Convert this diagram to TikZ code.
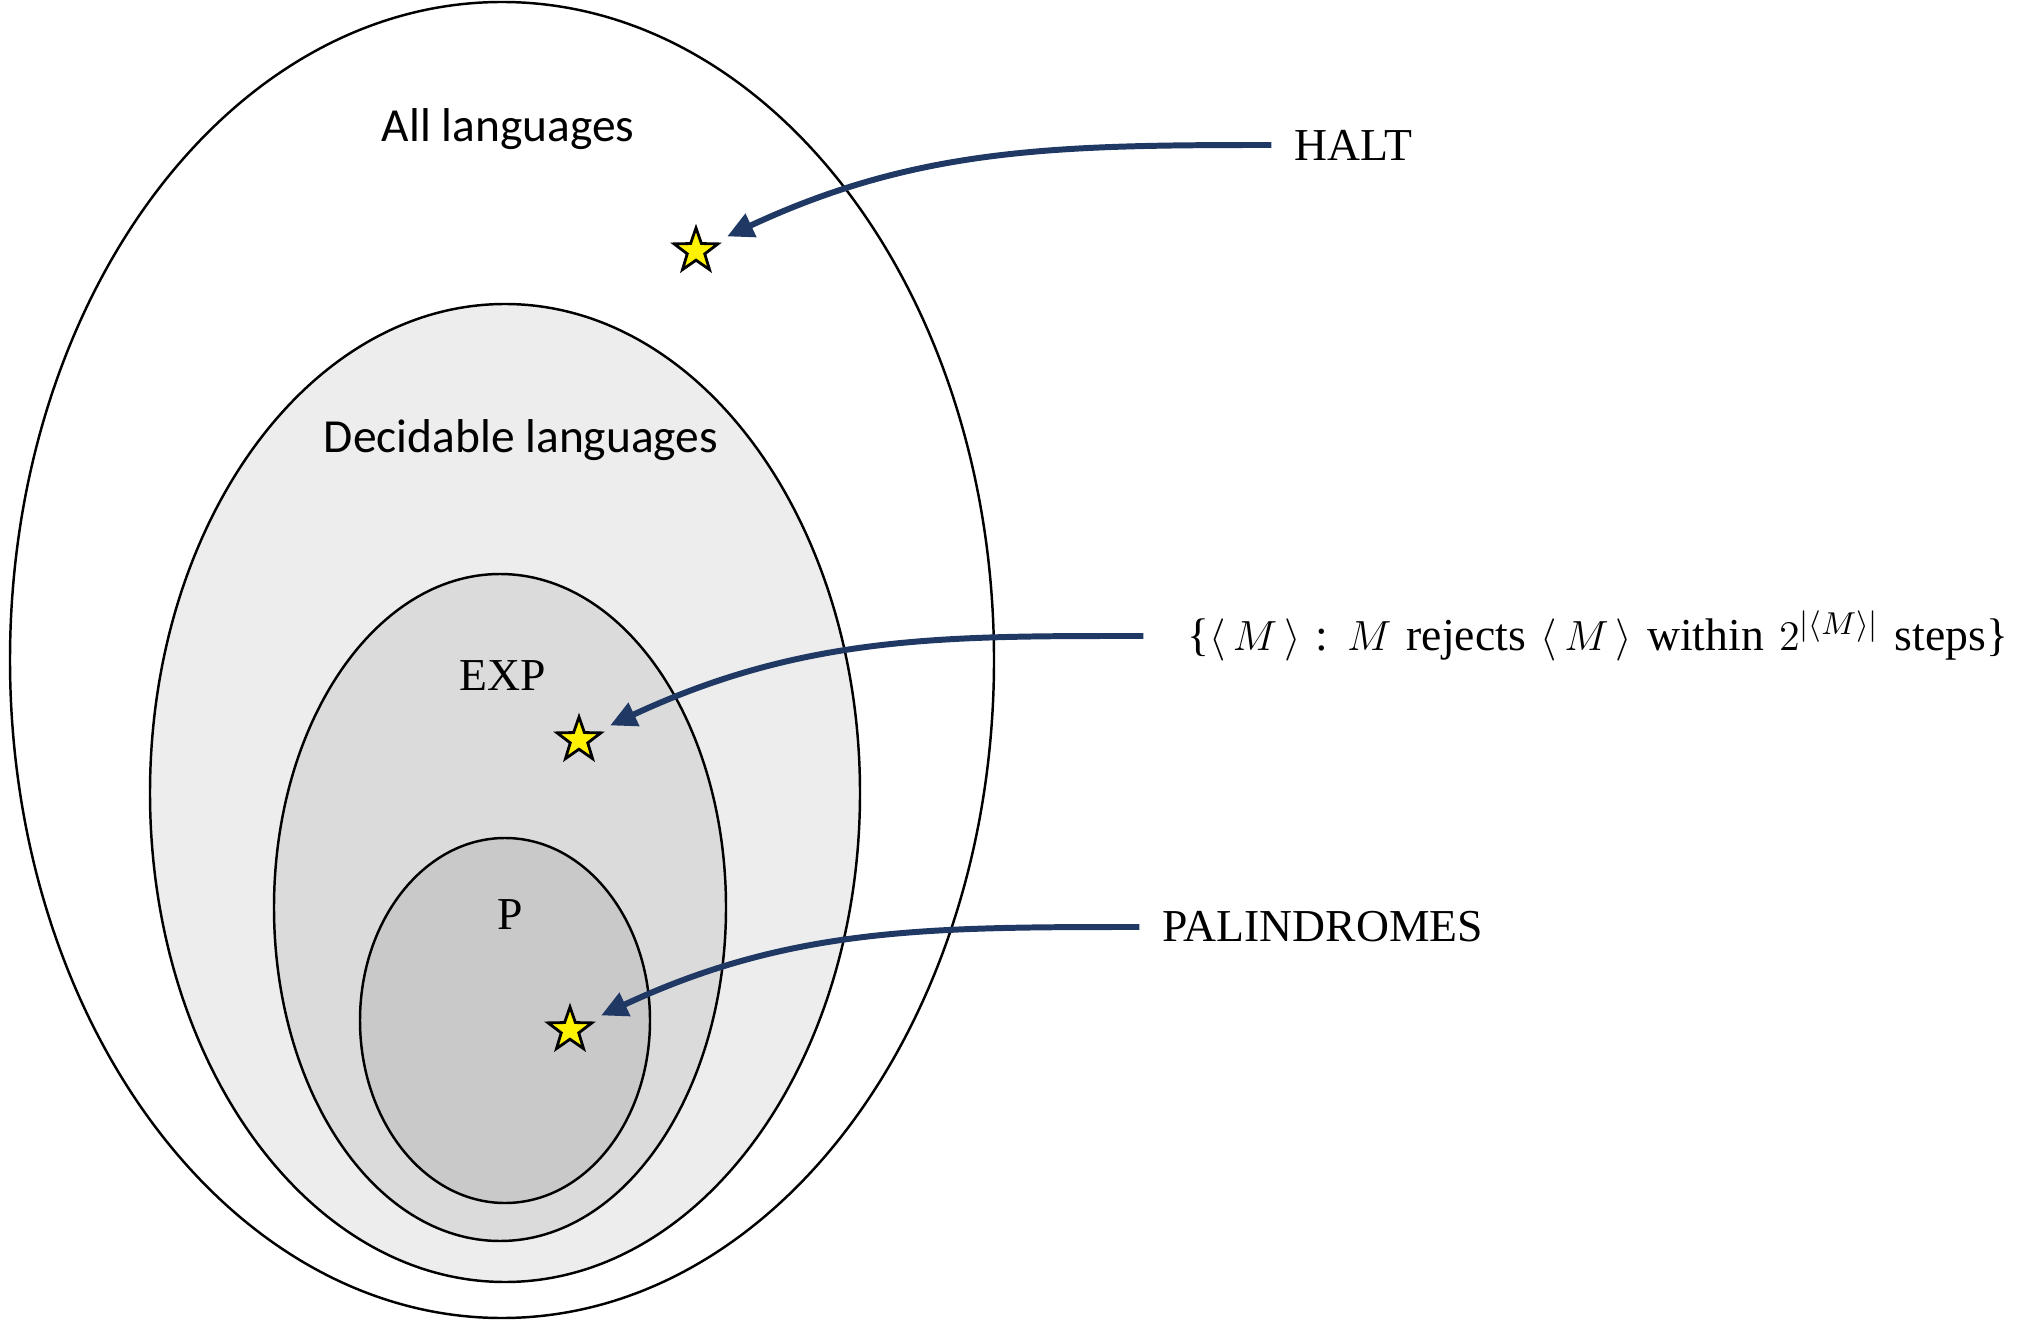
\documentclass[tikz,border=0pt]{standalone}
\usepackage{fontspec}
\setmainfont{Liberation Serif}
\newfontfamily\calibrifont{Carlito}
\usepackage{tikz}
\usetikzlibrary{arrows.meta}
\usetikzlibrary{calc}
\usetikzlibrary{shapes}

\definecolor{arrowblue}{RGB}{31,56,100}
\definecolor{decfill}{RGB}{237,237,237}
\definecolor{expfill}{RGB}{219,219,219}
\definecolor{pfill}{RGB}{201,201,201}

\begin{document}
\begin{tikzpicture}[
        set_style/.style={draw=black, line width=0.7pt},
        star_style/.style={star, star points=5, star point ratio=2.5, minimum size=0.46cm, inner sep=0pt, draw=black, line width=0.8pt, fill=yellow},
        sans_style/.style={font=\calibrifont\fontsize{13.5}{16}\selectfont},
        serif_style/.style={font=\fontsize{13}{16}\selectfont},
        arrow_style/.style={draw=arrowblue, line width=1.7pt, -{Triangle[length=7.5pt,width=7pt]}, shorten >=4pt}]

        \useasboundingbox (0,0) rectangle (20.18,-13.20);

        % nested sets
        \draw [set_style, fill=white] (5.02,-6.60) ellipse [x radius=4.92, y radius=6.58];

        \draw [set_style, fill=decfill] (5.05,-7.93) ellipse [x radius=3.55, y radius=4.89];

        \draw [set_style, fill=expfill] (5.00,-9.075) ellipse [x radius=2.26, y radius=3.335];

        \draw [set_style, fill=pfill] (5.05,-10.205) ellipse [x radius=1.45, y radius=1.825];

        \node [sans_style](all) at (5.08,-1.29) {All languages};

        \node [sans_style](dec) at (5.21,-4.40) {Decidable languages};

        \node [serif_style](exp) at (5.03,-6.76) {EXP};

        \node [serif_style](p) at (5.10,-9.15) {P};

        \node [star_style](s1) at (6.96,-2.51) {};

        \node [star_style](s2) at (5.79,-7.40) {};

        \node [star_style](s3) at (5.70,-10.30) {};

        \node [serif_style, anchor=west](halt) at (12.82,-1.45) {HALT};

        % set of machines rejecting their own code
        \node [serif_style, anchor=west](rej) at (11.75,-6.36) {\spaceskip=0.33em plus 0.1em \{$\langle\, M\,\rangle$ : $M$ rejects $\langle\, M\,\rangle$ within $2^{|\langle M\rangle|}$ steps\}};

        \node [serif_style, anchor=west](pal) at (11.50,-9.27) {PALINDROMES};

        \draw [arrow_style, shorten <=3pt] (halt.west) to[out=180, in=25] (s1);

        \draw [arrow_style, shorten <=9pt] (rej.west) to[out=180, in=25] (s2);

        \draw [arrow_style, shorten <=3pt] (pal.west) to[out=180, in=25] (s3);

\end{tikzpicture}
\end{document}
